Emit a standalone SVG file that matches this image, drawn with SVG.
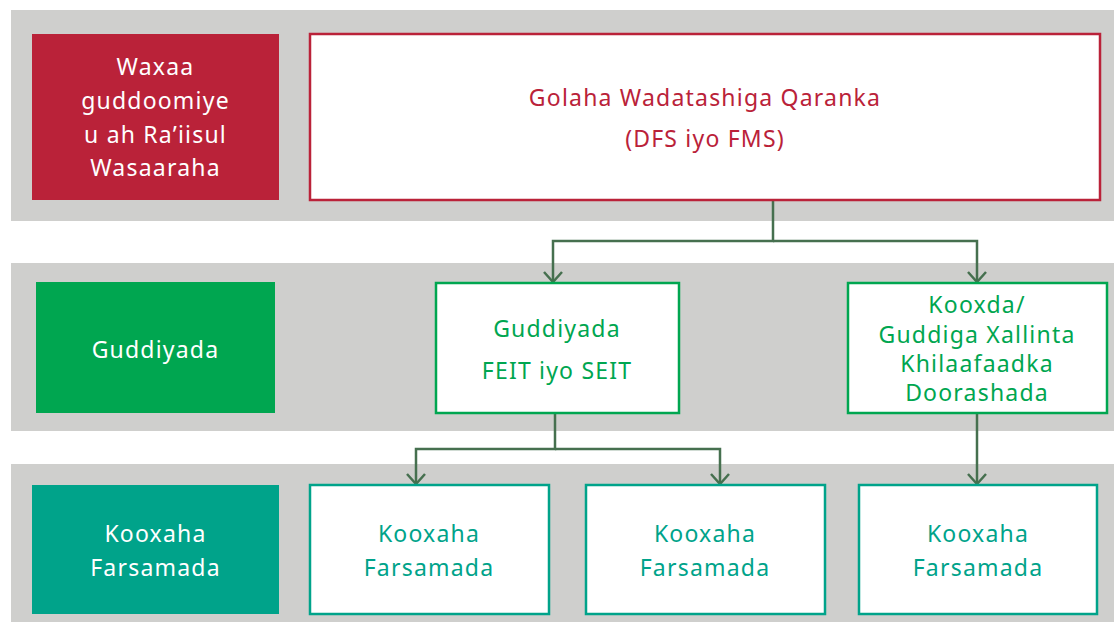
<svg xmlns="http://www.w3.org/2000/svg" width="1114" height="625" viewBox="0 0 1114 625">
  <style>
    text { font-family: "Noto Sans", "Liberation Sans", sans-serif; font-size: 23px; letter-spacing: 1.2px; text-anchor: middle; }
    .band { fill: #CFCFCD; }
    .w { fill: #FFFFFF; }
    .r { fill: #BA2239; }
    .g { fill: #00A650; }
    .t { fill: #00A38A; }
    .box-r { fill: #FFFFFF; stroke: #BA2239; stroke-width: 2.5; }
    .box-g { fill: #FFFFFF; stroke: #00A650; stroke-width: 2.5; }
    .box-t { fill: #FFFFFF; stroke: #00A38A; stroke-width: 2.5; }
    .link { fill: none; stroke: #46704F; stroke-width: 2.5; }
  </style>
  <defs>
    <!-- open chevron head, drawn along +x so orient="auto" turns it with the line -->
    <marker id="arrow" viewBox="0 0 12 20" refX="11" refY="10" markerWidth="12" markerHeight="20" markerUnits="userSpaceOnUse" orient="auto">
      <path d="M1,1 L11,10 L1,19" fill="none" stroke="#46704F" stroke-width="2.5"/>
    </marker>
  </defs>

  <rect width="1114" height="625" fill="#FFFFFF"/>

  <!-- tier bands -->
  <g id="bands">
    <rect class="band" x="11" y="10" width="1103" height="211"/>
    <rect class="band" x="11" y="263" width="1103" height="168"/>
    <rect class="band" x="11" y="464" width="1103" height="158"/>
  </g>

  <!-- connectors -->
  <g id="connectors">
    <path class="link" d="M773,200 V241 H553 V282" marker-end="url(#arrow)"/>
    <path class="link" d="M773,241 H977 V282" marker-end="url(#arrow)"/>
    <path class="link" d="M555,413 V449 H416 V484" marker-end="url(#arrow)"/>
    <path class="link" d="M555,449 H720 V484" marker-end="url(#arrow)"/>
    <path class="link" d="M977,413 V484" marker-end="url(#arrow)"/>
  </g>

  <!-- tier 1 -->
  <g id="label-chair">
    <rect class="r" x="32" y="34" width="247" height="166"/>
    <text class="w" x="155.5" y="75">Waxaa</text>
    <text class="w" x="155.5" y="109">guddoomiye</text>
    <text class="w" x="155.5" y="143">u ah Ra’iisul</text>
    <text class="w" x="155.5" y="176">Wasaaraha</text>
  </g>
  <g id="node-council">
    <rect class="box-r" x="310" y="34" width="790" height="166"/>
    <text class="r" x="705" y="106">Golaha Wadatashiga Qaranka</text>
    <text class="r" x="705" y="147">(DFS iyo FMS)</text>
  </g>

  <!-- tier 2 -->
  <g id="label-committees">
    <rect class="g" x="36" y="282" width="239" height="131"/>
    <text class="w" x="155.5" y="358">Guddiyada</text>
  </g>
  <g id="node-feit">
    <rect class="box-g" x="436" y="283" width="243" height="130"/>
    <text class="g" x="557" y="337">Guddiyada</text>
    <text class="g" x="557" y="379">FEIT iyo SEIT</text>
  </g>
  <g id="node-disputes">
    <rect class="box-g" x="848" y="283" width="259" height="130"/>
    <text class="g" x="977" y="313">Kooxda/</text>
    <text class="g" x="977" y="343">Guddiga Xallinta</text>
    <text class="g" x="977" y="372">Khilaafaadka</text>
    <text class="g" x="977" y="401">Doorashada</text>
  </g>

  <!-- tier 3 -->
  <g id="label-technical">
    <rect class="t" x="32" y="485" width="247" height="129"/>
    <text class="w" x="155.5" y="542">Kooxaha</text>
    <text class="w" x="155.5" y="576">Farsamada</text>
  </g>
  <g id="node-tech-1">
    <rect class="box-t" x="310" y="485" width="239" height="129"/>
    <text class="t" x="429" y="542">Kooxaha</text>
    <text class="t" x="429" y="576">Farsamada</text>
  </g>
  <g id="node-tech-2">
    <rect class="box-t" x="586" y="485" width="239" height="129"/>
    <text class="t" x="705" y="542">Kooxaha</text>
    <text class="t" x="705" y="576">Farsamada</text>
  </g>
  <g id="node-tech-3">
    <rect class="box-t" x="859" y="485" width="238" height="129"/>
    <text class="t" x="978" y="542">Kooxaha</text>
    <text class="t" x="978" y="576">Farsamada</text>
  </g>
</svg>
